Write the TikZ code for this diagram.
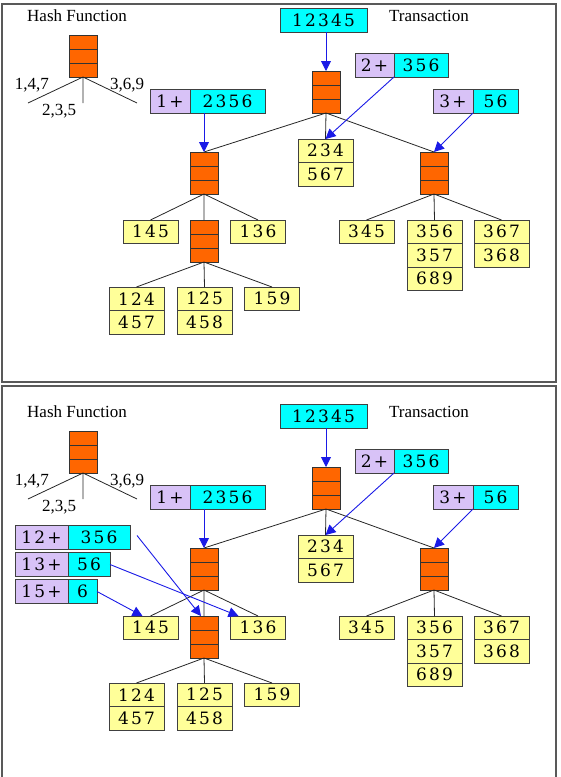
\documentclass[tikz,border=0pt]{standalone}
\usepackage{fontspec}
\usetikzlibrary{arrows.meta}
\newfontfamily\numfont[LetterSpace=13]{DejaVu Serif}
\newfontfamily\labfont{Liberation Serif}
\definecolor{hashorange}{HTML}{FF6600}
\definecolor{leafyellow}{HTML}{FFFF99}
\definecolor{txncyan}{HTML}{00FFFF}
\definecolor{prepurple}{HTML}{D8C2F7}
\definecolor{feedblue}{HTML}{1A1AE6}

\begin{document}
\begin{tikzpicture}[x=1pt, y=-1pt,
    frame/.style={draw=black!65, line width=1.3pt},
    hashbox/.style={draw=black!80, line width=0.8pt, fill=hashorange, minimum width=28, minimum height=42,
      inner sep=0, outer sep=0,
      path picture={\draw[black!80, line width=0.8pt]
        ([yshift=7pt]path picture bounding box.west) -- ([yshift=7pt]path picture bounding box.east)
        ([yshift=-7pt]path picture bounding box.west) -- ([yshift=-7pt]path picture bounding box.east);}},
    leaf/.style={draw=black!75, line width=0.8pt, fill=leafyellow, minimum width=55, minimum height=23.5,
      inner sep=0, outer sep=0, font=\numfont\fontsize{17}{17}\selectfont},
    txn/.style={leaf, fill=txncyan, minimum height=24},
    pre/.style={leaf, fill=prepurple, minimum height=24},
    lab/.style={font=\labfont\fontsize{17}{17}\selectfont, anchor=base, inner sep=0},
    edge/.style={draw=black!85, line width=0.8pt},
    feed/.style={draw=feedblue, line width=0.9pt, -{Triangle[length=10pt, width=10pt]}}]
  \useasboundingbox (0,0) rectangle (561,777);
  % frames
  \draw[frame] (2,4) rectangle (556,382);
  \draw[frame] (2,777) -- (2,386) -- (556,386) -- (556,777);

  \foreach \p/\dy in {a/0, b/396} {
  \begin{scope}[shift={(0,\dy)}]
    % titles
    \node[lab] (hftitle\p) at (77,21) {Hash Function};
    \node[lab] (trtitle\p) at (429,21) {Transaction};
    % hash function
    \node[hashbox] (hf\p) at (83,56) {};
    \coordinate (hfl\p) at (28,103);
    \coordinate (hfm\p) at (83,103);
    \coordinate (hfr\p) at (137,103);
    \draw[edge] (hf\p.south) -- (hfl\p) (hf\p.south) -- (hfm\p) (hf\p.south) -- (hfr\p);
    \node[lab] (k147\p) at (32,89) {1,4,7};
    \node[lab] (k235\p) at (59,115) {2,3,5};
    \node[lab] (k369\p) at (127,89) {3,6,9};
    % transaction
    \node[txn, minimum width=87] (t0\p) at (323.5,20) {12345};
    \node[pre, minimum width=40] (p1\p) at (170,101) {1+};
    \node[txn, minimum width=75, anchor=west] (t1\p) at (p1\p.east) {2356};
    \node[pre, minimum width=39] (p2\p) at (374.5,65) {2+};
    \node[txn, minimum width=54, anchor=west] (t2\p) at (p2\p.east) {356};
    \node[pre, minimum width=40] (p3\p) at (453,101) {3+};
    \node[txn, minimum width=45, anchor=west] (t3\p) at (p3\p.east) {56};
    % hash tree
    \node[hashbox] (root\p) at (326,92) {};
    \node[hashbox] (hl\p) at (204,173) {};
    \node[hashbox] (hr\p) at (434,173) {};
    \node[leaf] (l234\p) at (325.5,150.75) {234};
    \node[leaf, anchor=north] (l567\p) at (l234\p.south) {567};
    \node[leaf] (l145\p) at (150.5,231.75) {145};
    \node[hashbox] (hs\p) at (204,241) {};
    \node[leaf] (l136\p) at (258,231.75) {136};
    \node[leaf] (l124\p) at (136.5,298.75) {124};
    \node[leaf, anchor=north] (l457\p) at (l124\p.south) {457};
    \node[leaf] (l125\p) at (204.5,298.75) {125};
    \node[leaf, anchor=north] (l458\p) at (l125\p.south) {458};
    \node[leaf] (l159\p) at (272,298.75) {159};
    \node[leaf] (l345\p) at (366.5,231.75) {345};
    \node[leaf] (l356\p) at (434.5,231.75) {356};
    \node[leaf, anchor=north] (l357\p) at (l356\p.south) {357};
    \node[leaf, anchor=north] (l689\p) at (l357\p.south) {689};
    \node[leaf] (l367\p) at (501.5,231.75) {367};
    \node[leaf, anchor=north] (l368\p) at (l367\p.south) {368};
    \draw[edge] (root\p.south) -- (hl\p.north) (root\p.south) -- (l234\p.north) (root\p.south) -- (hr\p.north);
    \draw[edge] (hl\p.south) -- (l145\p.north) (hl\p.south) -- (hs\p.north) (hl\p.south) -- (l136\p.north);
    \draw[edge] (hs\p.south) -- (l124\p.north) (hs\p.south) -- (l125\p.north) (hs\p.south) -- (l159\p.north);
    \draw[edge] (hr\p.south) -- (l345\p.north) (hr\p.south) -- (l356\p.north) (hr\p.south) -- (l367\p.north);
    % feeding
    \draw[feed] (t0\p.south -| root\p) -- (root\p.north);
    \draw[feed] (t1\p.south -| hl\p) -- (hl\p.north);
    \draw[feed] (t2\p.south west) -- (l234\p.north);
    \draw[feed] (t3\p.south west) -- (hr\p.north);
  \end{scope}
  }

  % second round
  \node[pre, minimum width=53] (p12) at (41.5,537.5) {12+};
  \node[txn, minimum width=62, anchor=west] (t12) at (p12.east) {356};
  \node[pre, minimum width=53] (p13) at (41.5,564.5) {13+};
  \node[txn, minimum width=42, anchor=west] (t13) at (p13.east) {56};
  \node[pre, minimum width=53] (p15) at (41.5,591.5) {15+};
  \node[txn, minimum width=29, anchor=west] (t15) at (p15.east) {6};
  \draw[feed] ([xshift=7pt,yshift=2pt]t12.east) -- ([xshift=-3pt]hsb.north);
  \draw[feed] (t13.east) -- ([xshift=8pt]l136b.north west);
  \draw[feed] (t15.east) -- ([xshift=-8pt]l145b.north);
\end{tikzpicture}
\end{document}
